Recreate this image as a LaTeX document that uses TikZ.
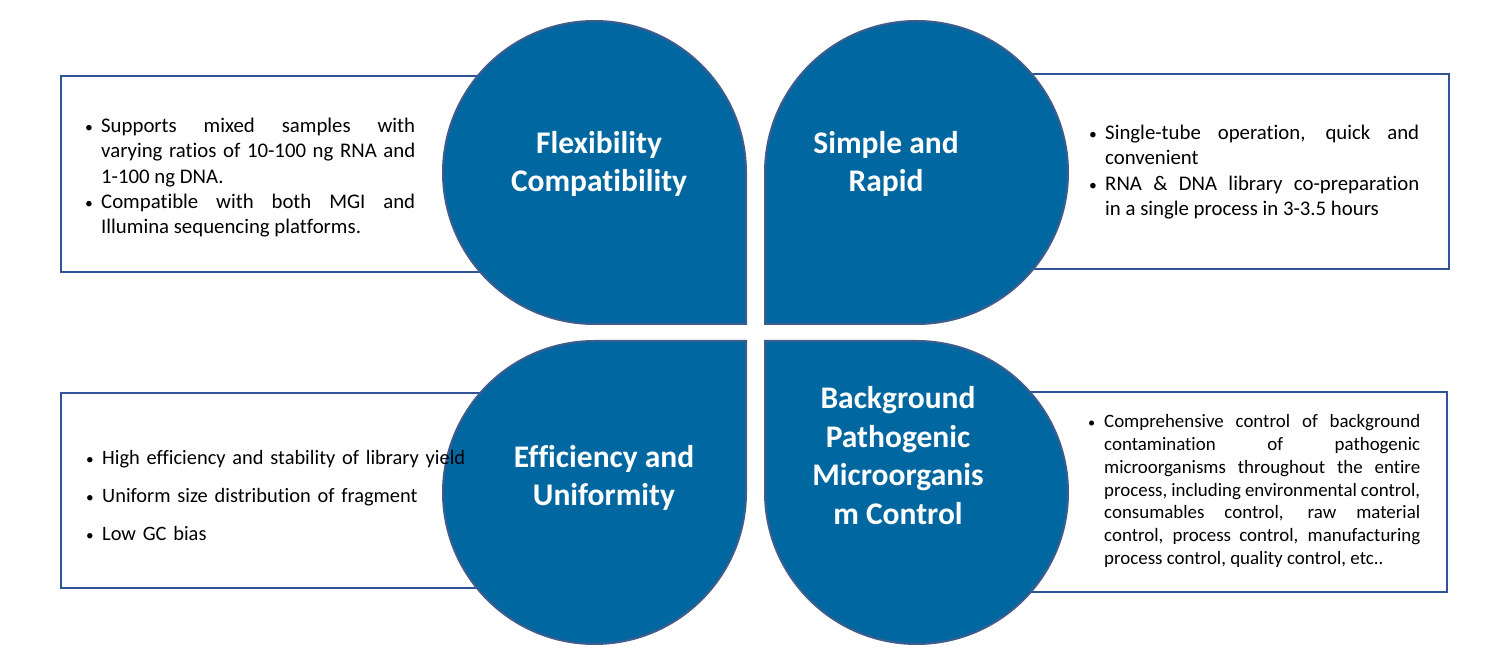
\documentclass[tikz,border=0pt]{standalone}
\usepackage{fontspec}
\setmainfont{Carlito}[Ligatures=NoCommon]
\usepackage{xcolor}
\usepackage{tikz}
\usetikzlibrary{positioning}

\definecolor{dropblue}{RGB}{1,103,160}
\definecolor{dropline}{RGB}{62,92,140}
\definecolor{boxline}{RGB}{47,85,151}

\tikzset{
  infobox/.style={draw=boxline, line width=2.2pt, fill=white},
  drop/.style={fill=dropblue, draw=dropline, line width=2pt},
  droptitle/.style={text=white, align=center, inner sep=0pt,
    font=\fontsize{31.5}{38.5}\selectfont\bfseries},
  bodytext/.style={anchor=north west, inner sep=0pt, text width=#1pt,
    align=justify, font=\fontsize{20.8}{25.2}\selectfont},
}

% one bullet line with hanging indent
\newcommand{\bitem}{\par\noindent\hangindent=16pt\hangafter=1\strut\makebox[16pt][l]{\scalebox{0.75}{\textbullet}}}
% rounded drop: centre, radius, angle where the square corner starts
\newcommand{\tear}[3]{%
  \draw[drop] (#1) ++(#3:#2) -- ++(#3+90:#2) -- ++(#3+180:#2)
    arc[start angle=#3+90, delta angle=270, radius=#2] -- cycle;}

\begin{document}
\begin{tikzpicture}[x=1pt, y=1pt]
  \useasboundingbox (0,0) rectangle (1504,666);

  % centres of the four drops
  \coordinate (flex) at (594.5,493.5);
  \coordinate (rapid) at (916.5,493.5);
  \coordinate (effic) at (594.5,173.5);
  \coordinate (bgctl) at (916.5,173.5);

  % boxes behind the drops
  \draw[infobox] (61,394) rectangle (600,590);
  \draw[infobox] (900,397) rectangle (1449,592);
  \draw[infobox] (61,78) rectangle (600,273);
  \draw[infobox] (900,74) rectangle (1447,274);

  % drops
  \tear{flex}{151.5}{270}
  \tear{rapid}{151.5}{180}
  \tear{effic}{151.5}{0}
  \tear{bgctl}{151.5}{90}

  % titles
  \node[droptitle] (flexT) at (599,502) {Flexibility\\Compatibility};
  \node[droptitle] (rapidT) at (886,502) {Simple and\\Rapid};
  \node[droptitle] (efficT) at (604,188) {Efficiency and\\Uniformity};
  \node[droptitle] (bgctlT) at (898,210.5) {Background\\Pathogenic\\Microorganis\\m Control};

  % texts
  \node[bodytext=330] (flexB) at (85,558.6) {%
    \bitem Supports mixed samples with\linebreak varying ratios of 10-100 ng RNA and\linebreak 1-100 ng DNA.
    \bitem Compatible with both MGI and\linebreak Illumina sequencing platforms.\par};
  \node[bodytext=330] (rapidB) at (1089,551.6) {%
    \bitem Single-tube operation, quick and\linebreak convenient
    \bitem RNA \& DNA library co-preparation\linebreak in a single process in 3-3.5 hours\par};
  \node[bodytext=420, align=left, font=\fontsize{20.4}{38}\selectfont] (efficB) at (86,239.6) {%
    \bitem High efficiency and stability of library yield
    \bitem Uniform size distribution of fragment
    \bitem Low GC bias\par};
  \node[bodytext=332, font=\fontsize{18.9}{22.7}\selectfont] (bgctlB) at (1088,260.9) {%
    \bitem Comprehensive control of background\linebreak contamination of pathogenic\linebreak microorganisms throughout the entire\linebreak process, including environmental control,\linebreak consumables control, raw material\linebreak control, process control, manufacturing\linebreak process control, quality control, etc..\par};
\end{tikzpicture}
\end{document}
